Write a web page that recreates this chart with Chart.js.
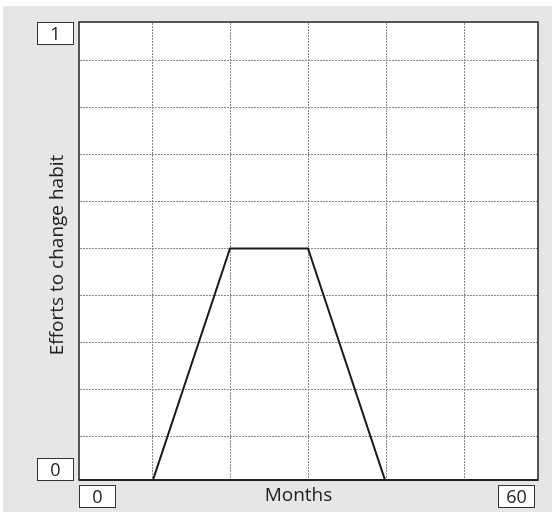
<!DOCTYPE html>
<html>
<head>
<meta charset="utf-8">
<script src="https://cdn.jsdelivr.net/npm/chart.js@4/dist/chart.umd.min.js"></script>
<style>
  html, body { margin: 0; padding: 0; background: #fff; }
  #wrap { width: 552px; height: 512px; }
</style>
</head>
<body>
<div id="wrap"><canvas id="habitChart" width="552" height="512"></canvas></div>
<script>
const monthsX = [0, 10, 20, 30, 40, 60];
const effortY = [0, 0, 0.5, 0.5, 0, 0];
const xTickLabels = ['0', '60'];
const yTickLabels = ['0', '1'];
const xTitle = 'Months';
const yTitle = 'Efforts to change habit';

const FONT = '"Open Sans", "DejaVu Sans", sans-serif';

// the framed box sits a little inside the scale area (as in the original)
const inset = { left: 5, top: 8, right: 4, bottom: 3 };

function frameBox(chart) {
  const a = chart.chartArea;
  return {
    left: a.left + inset.left,
    top: a.top + inset.top,
    right: a.right - inset.right,
    bottom: a.bottom - inset.bottom
  };
}

function labelBox(ctx, text, x, y, w, h) {
  ctx.fillStyle = '#fff';
  ctx.fillRect(x, y, w, h);
  ctx.strokeStyle = '#333';
  ctx.lineWidth = 1;
  ctx.strokeRect(x + 0.5, y + 0.5, w - 1, h - 1);
  ctx.fillStyle = '#222';
  ctx.font = '18px ' + FONT;
  ctx.textAlign = 'center';
  ctx.textBaseline = 'middle';
  ctx.fillText(text, x + w / 2, y + h / 2 + 1);
}

const framePlugin = {
  id: 'framePlugin',
  beforeDraw(chart) {
    const ctx = chart.ctx;
    const f = frameBox(chart);
    ctx.save();
    ctx.fillStyle = '#e6e6e6';
    ctx.fillRect(3, 6, chart.width - 3, chart.height - 6);
    ctx.fillStyle = '#fff';
    ctx.fillRect(f.left, f.top, f.right - f.left, f.bottom - f.top);
    // keep grid and line inside the frame
    ctx.beginPath();
    ctx.rect(f.left, f.top, f.right - f.left, f.bottom - f.top);
    ctx.clip();
  },
  afterDraw(chart) {
    const ctx = chart.ctx;
    ctx.restore();
    const f = frameBox(chart);
    ctx.save();
    ctx.strokeStyle = '#222';
    ctx.lineWidth = 1.5;
    ctx.strokeRect(f.left, f.top, f.right - f.left, f.bottom - f.top);
    ctx.lineWidth = 2;
    ctx.beginPath();
    ctx.moveTo(f.left, f.bottom);
    ctx.lineTo(f.right, f.bottom);
    ctx.stroke();

    const bw = 37, bh = 23;
    // y end labels
    labelBox(ctx, yTickLabels[1], f.left - 42, f.top, bw, bh);
    labelBox(ctx, yTickLabels[0], f.left - 42, f.bottom - bh + 1, bw, bh);
    // x end labels
    labelBox(ctx, xTickLabels[0], f.left, f.bottom + 5, bw, bh);
    labelBox(ctx, xTickLabels[1], f.right - 3 - bw, f.bottom + 5, bw, bh);

    ctx.fillStyle = '#222';
    ctx.font = '19px ' + FONT;
    ctx.textAlign = 'center';
    ctx.textBaseline = 'middle';
    ctx.fillText(xTitle, (f.left + f.right) / 2 - 10, f.bottom + 16);

    ctx.translate(f.left - 21, (f.top + f.bottom) / 2 + 4);
    ctx.rotate(-Math.PI / 2);
    ctx.fillText(yTitle, 0, 0);
    ctx.restore();
  }
};

const ctx = document.getElementById('habitChart').getContext('2d');
new Chart(ctx, {
  type: 'line',
  data: {
    datasets: [{
      data: monthsX.map((m, i) => ({ x: m, y: effortY[i] })),
      borderColor: '#1a1a1a',
      borderWidth: 2,
      pointRadius: 0,
      tension: 0,
      fill: false
    }]
  },
  options: {
    responsive: false,
    animation: false,
    devicePixelRatio: 1,
    layout: { padding: { top: 14, right: 10, left: 0, bottom: 0 } },
    plugins: {
      legend: { display: false },
      tooltip: { enabled: false }
    },
    scales: {
      x: {
        type: 'linear',
        min: 0,
        max: 60,
        ticks: { display: false, stepSize: 10 },
        grid: { color: '#8a8a8a', lineWidth: 1, drawTicks: false },
        border: { display: false, dash: [2, 1] },
        afterFit: s => { s.height = 29; }
      },
      y: {
        min: 0,
        max: 1,
        ticks: { display: false, stepSize: 0.1 },
        grid: { color: '#8a8a8a', lineWidth: 1, drawTicks: false },
        border: { display: false, dash: [2, 1] },
        afterFit: s => { s.height = s.height; s.width = 74; }
      }
    }
  },
  plugins: [framePlugin]
});
</script>
</body>
</html>
